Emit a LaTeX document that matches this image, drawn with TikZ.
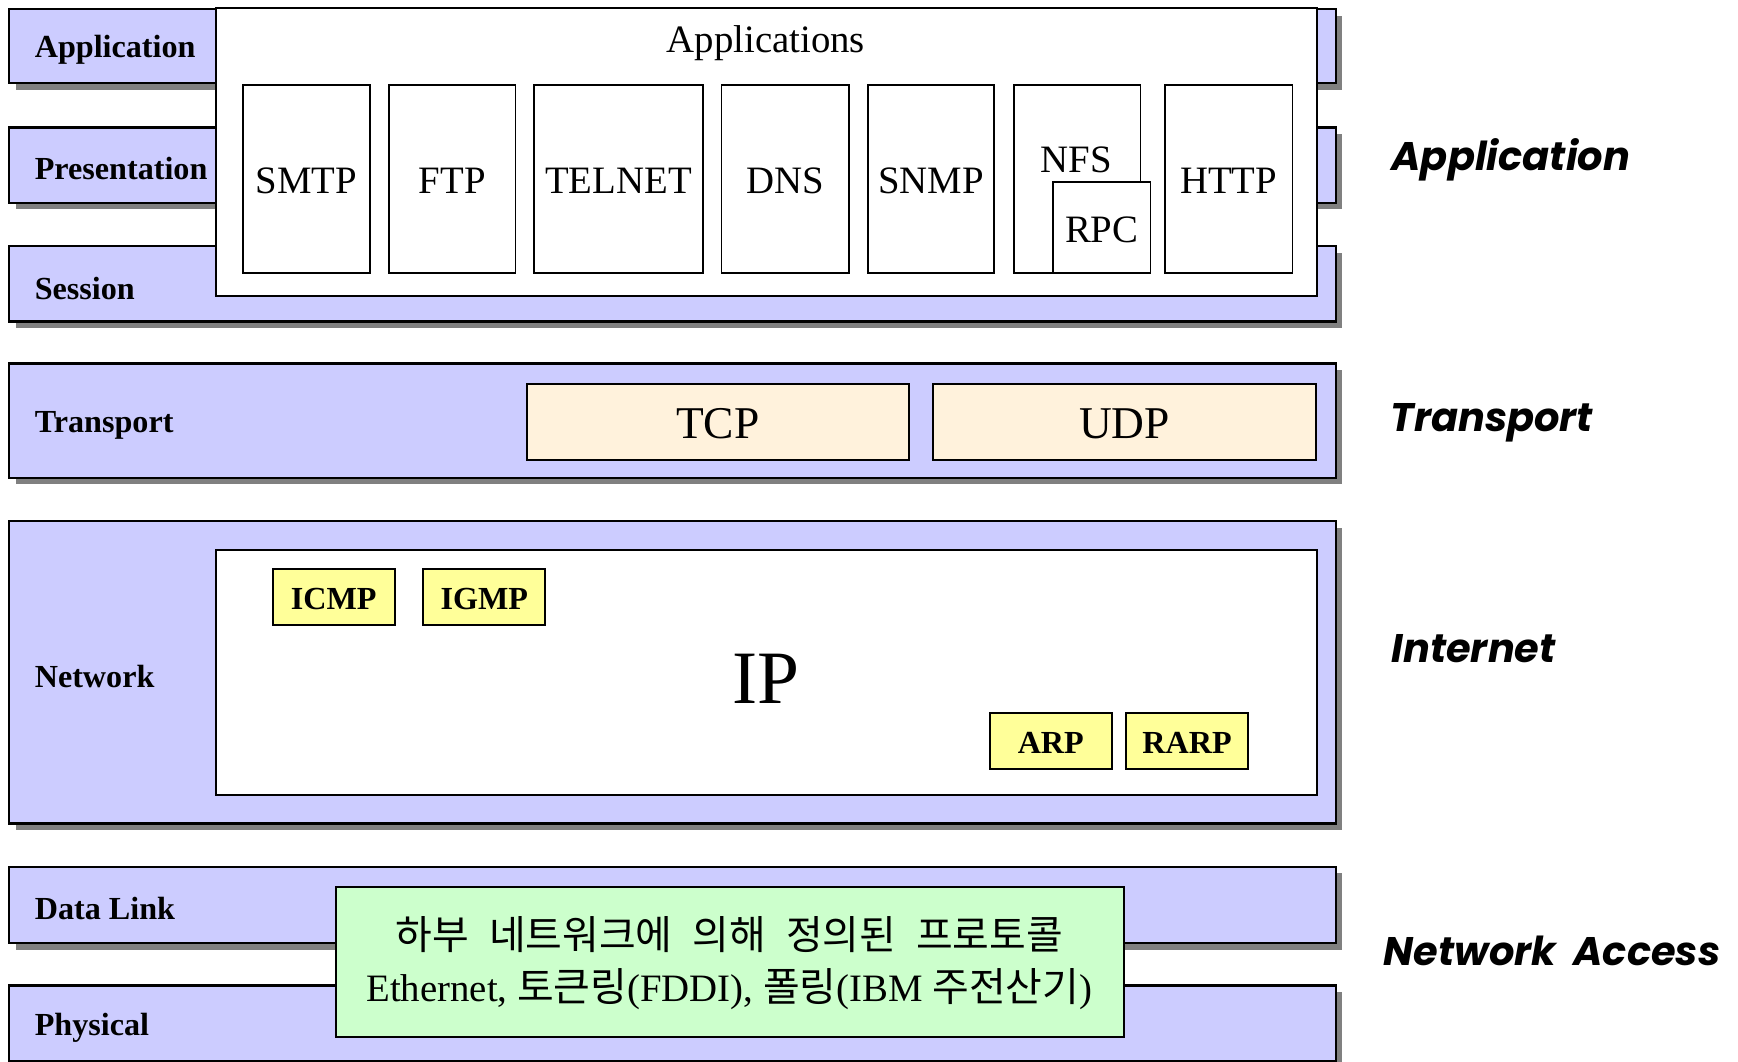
\documentclass[tikz,border=0pt]{standalone}
\usepackage{fontspec}
\setmainfont{Liberation Serif}
\newfontfamily\kofont{Noto Sans CJK KR}
\newfontfamily\headfont{Poppins}
\usetikzlibrary{fit}

\definecolor{layerfill}{HTML}{CCCCFF}
\definecolor{shadowgray}{HTML}{808080}
\definecolor{transfill}{HTML}{FFF2DC}
\definecolor{protoyellow}{HTML}{FFFF99}
\definecolor{accessgreen}{HTML}{CCFFCC}

\newcommand\kgap{\hspace{0.5em}}
\newcommand\ko[1]{{\fontsize{18}{21}\selectfont\kofont #1}}

\tikzset{
  layerbox/.style={draw=black, line width=1pt, fill=layerfill, inner sep=0pt, outer sep=0pt,
    preaction={fill=shadowgray, transform canvas={xshift=3pt, yshift=-3pt}}},
  whitebox/.style={draw=black, line width=1pt, fill=white, inner sep=0pt, outer sep=0pt},
  appbox/.style={draw=black, line width=0.8pt, fill=white, inner sep=0pt, outer sep=0pt},
  transbox/.style={draw=black, line width=0.9pt, fill=transfill, inner sep=0pt, outer sep=0pt},
  ipbox/.style={draw=black, line width=0.9pt, fill=protoyellow, inner sep=0pt, outer sep=0pt},
  accessbox/.style={draw=black, line width=0.9pt, fill=accessgreen, inner sep=0pt, outer sep=0pt},
  osilabel/.style={anchor=west, inner sep=0pt, font=\fontsize{14.5}{17}\selectfont\bfseries},
  tcplabel/.style={anchor=west, inner sep=0pt, font=\fontsize{18}{21}\selectfont\headfont\bfseries\itshape},
  plain/.style={inner sep=0pt, font=\fontsize{17.5}{20}\selectfont},
  transtext/.style={inner sep=0pt, font=\fontsize{20.5}{24}\selectfont},
  iptext/.style={inner sep=0pt, font=\fontsize{14.5}{17}\selectfont\bfseries},
}

\begin{document}
\begin{tikzpicture}[x=0.5pt, y=-0.5pt]
\useasboundingbox (0,0) rectangle (1568,958);

% OSI upper layers
\node[layerbox, fit={(8,8)(1205,75)}] (lapp) {};
\node[layerbox, fit={(8,115)(1205,183)}] (lpres) {};
\node[layerbox, fit={(8,222)(1205,290)}] (lsess) {};
\node[osilabel] (tapp) at (31,45) {Application};
\node[osilabel] (tpres) at (31,152) {Presentation};
\node[osilabel] (tsess) at (31,260) {Session};

% application protocols
\node[whitebox, fit={(195,7)(1188,267)}] (apps) {};
\node[plain] (tapps) at (691,39) {Applications};
\node[appbox, fit={(219,77)(334,246)}] (smtp) {};
\node[appbox, fit={(351,77)(465,246)}] (ftp) {};
\node[appbox, fit={(482,77)(634,246)}] (telnet) {};
\node[appbox, fit={(651,77)(766,246)}] (dns) {};
\node[appbox, fit={(783,77)(897,246)}] (snmp) {};
\node[appbox, fit={(915,77)(1029,246)}] (nfs) {};
\node[appbox, fit={(950,164)(1038,246)}] (rpc) {};
\node[appbox, fit={(1051,77)(1166,246)}] (http) {};
\node[plain] at ([yshift=-1pt]smtp.center) {SMTP};
\node[plain] at ([yshift=-1pt]ftp.center) {FTP};
\node[plain] at ([yshift=-1pt]telnet.center) {TELNET};
\node[plain] at ([yshift=-1pt]dns.center) {DNS};
\node[plain] at ([yshift=-1pt]snmp.center) {SNMP};
\node[plain] at ([yshift=-1pt]http.center) {HTTP};
\node[plain] (tnfs) at (971,144) {NFS};
\node[plain] (trpc) at ([yshift=-1pt]rpc.center) {RPC};

% transport layer
\node[layerbox, fit={(8,328)(1205,431)}] (ltrans) {};
\node[osilabel] (ttrans) at (31,384) {Transport};
\node[transbox, fit={(475,346)(820,415)}] (tcp) {};
\node[transbox, fit={(842,346)(1187,415)}] (udp) {};
\node[transtext] at ([yshift=-1pt]tcp.center) {TCP};
\node[transtext] at ([yshift=-1pt]udp.center) {UDP};

% network layer
\node[layerbox, fit={(8,470)(1205,743)}] (lnet) {};
\node[osilabel] (tnet) at (31,610) {Network};
\node[whitebox, fit={(195,496)(1188,717)}] (ipframe) {};
\node[inner sep=0pt, font=\fontsize{34}{38}\selectfont] (ip) at (691,612) {IP};
\node[ipbox, fit={(246,513)(356,564)}] (icmp) {};
\node[ipbox, fit={(382,513)(492,564)}] (igmp) {};
\node[ipbox, fit={(893,643)(1003,694)}] (arp) {};
\node[ipbox, fit={(1016,643)(1126,694)}] (rarp) {};
\node[iptext] at ([yshift=-1pt]icmp.center) {ICMP};
\node[iptext] at ([yshift=-1pt]igmp.center) {IGMP};
\node[iptext] at ([yshift=-1pt]arp.center) {ARP};
\node[iptext] at ([yshift=-1pt]rarp.center) {RARP};

% data link and physical layers
\node[layerbox, fit={(8,782)(1205,851)}] (llink) {};
\node[layerbox, fit={(8,889)(1205,957)}] (lphys) {};
\node[osilabel] (tlink) at (31,820) {Data Link};
\node[osilabel] (tphys) at (31,927) {Physical};
\node[accessbox, fit={(303,800)(1014,936)}] (access) {};
\node[inner sep=0pt] (kline1) at (658,843)
  {\ko{하부\kgap 네트워크에\kgap 의해\kgap 정의된\kgap 프로토콜}};
\node[plain] (kline2) at (658,892)
  {Ethernet, \ko{토큰링}(FDDI), \ko{폴링}(IBM \ko{주전산기})};

% TCP/IP model layer names
\node[tcplabel] (mapp) at (1255,144) {Application};
\node[tcplabel] (mtrans) at (1254,381) {Transport};
\node[tcplabel] (minet) at (1255,585) {Internet};
\node[tcplabel] (macc) at (1248,858) {Network\hspace{0.2em} Access};
\end{tikzpicture}
\end{document}
